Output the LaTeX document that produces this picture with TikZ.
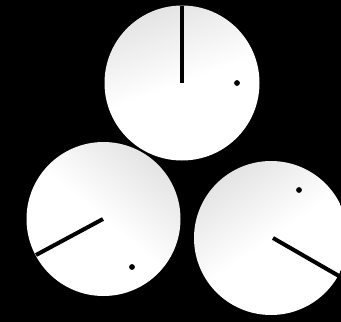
\documentclass[tikz,border=0pt]{standalone}
\pgfdeclareverticalshading{ballfade}{100bp}{color(0bp)=(white); color(50bp)=(white); color(78bp)=(black!12); color(100bp)=(black!32)}
\tikzset{
  disc/.style={shading=ballfade},
  hand/.style={line width=4pt, black},
  pip/.style={fill=black}
}
\begin{document}
\begin{tikzpicture}[x=1pt,y=-1pt]
\fill[black] (0,0) rectangle (341,322);
\useasboundingbox (0,0) rectangle (341,322);
% top disc
\shade[disc, shading angle=20] (182,83) circle[radius=77.5];
\draw[hand] (182,6) -- (182,83);
\fill[pip] (237,83) circle[radius=2.9];
% bottom-left disc
\shade[disc, shading angle=-40] (103.5,219) circle[radius=77];
\draw[hand] (103,219) -- (36,255);
\fill[pip] (132,267) circle[radius=2.9];
% bottom-right disc
\shade[disc, shading angle=35] (271,238) circle[radius=77];
\draw[hand] (273,238) -- (339,276);
\fill[pip] (299,190) circle[radius=2.9];
\end{tikzpicture}
\end{document}
